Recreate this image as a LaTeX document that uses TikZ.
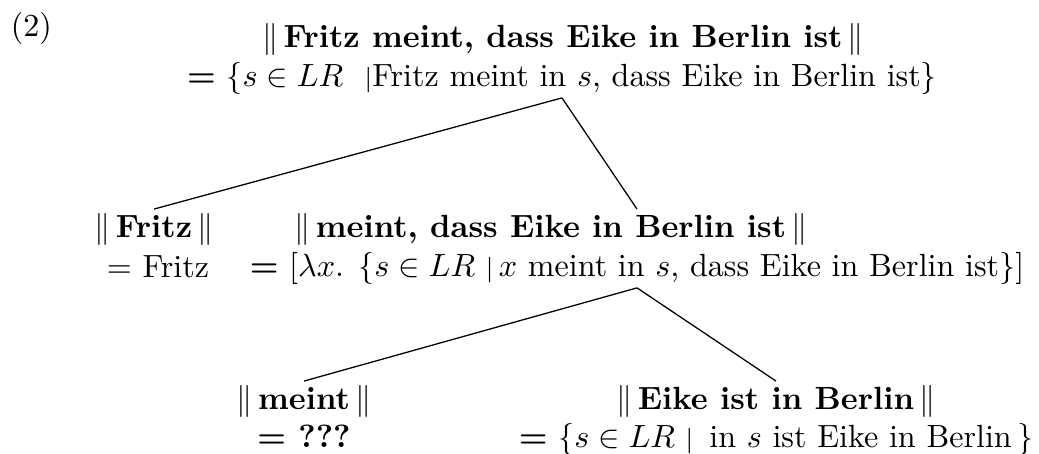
\documentclass[tikz,border=0pt]{standalone}
\newcommand\nrm[1]{$\|$\,#1\,$\|$}
\newcommand\sbar{{\footnotesize$|$}}
\begin{document}
\begin{tikzpicture}[x=0.3115pt,y=-0.3115pt,every node/.style={inner sep=1pt},ttl/.style={anchor=base,font=\bfseries},val/.style={anchor=base}]
\useasboundingbox (0,0) rectangle (1039,453);
\node[anchor=base west] (ex) at (7,36) {(2)};
% root
\node[ttl] (fmd) at (563,47) {\nrm{Fritz meint, dass Eike in Berlin ist}};
\node[val] (fmdV) at (562,86) {\textbf{=} $\{s\in LR$\ \ \sbar Fritz meint in $s$, dass Eike in Berlin ist$\}$};
% middle level
\node[ttl] (fr) at (154,237) {\nrm{Fritz}};
\node[val] (frV) at (158,277) {$=$ Fritz};
\node[ttl] (md) at (551,237) {\nrm{meint, dass Eike in Berlin ist}};
\node[val] (mdV) at (637,276) {\textbf{=} [$\lambda x$. $\{s\in LR$\ \sbar$\,x$ meint in $s$, dass Eike in Berlin ist$\}$]};
\coordinate (mdTop) at (mdV.center |- md.north);
% bottom level
\node[ttl] (mt) at (304,409) {\nrm{meint}};
\node[val] (mtV) at (304,447) {\textbf{= ???}};
\node[ttl] (eb) at (776,409) {\nrm{Eike ist in Berlin}};
\node[val] (ebV) at (776,447) {\textbf{=} $\{s\in LR$\ \sbar\, in $s$ ist Eike in Berlin\,$\}$};
% branches
\draw (fmdV.south) -- (fr.north);\draw (fmdV.south) -- (mdTop);
\draw (mdV.south) -- (mt.north);\draw (mdV.south) -- (eb.north);
\end{tikzpicture}
\end{document}
